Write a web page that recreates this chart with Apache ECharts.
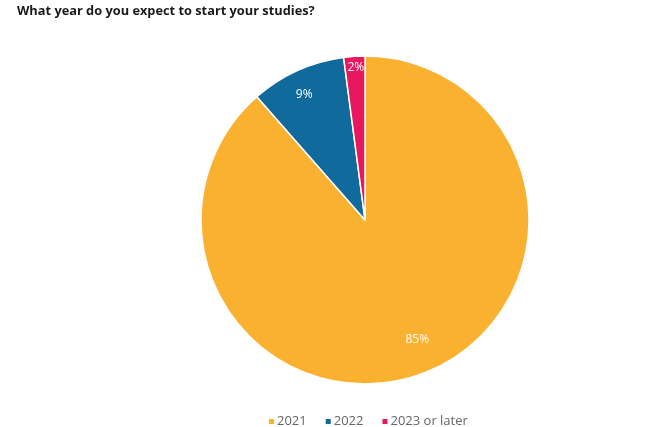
<!DOCTYPE html>
<html><head><meta charset="utf-8">
<script src="https://cdn.jsdelivr.net/npm/echarts@6/dist/echarts.min.js"></script>
<style>html,body{margin:0;padding:0;background:#fff}#c{width:665px;height:427px}</style>
</head><body><div id="c"></div>
<script>
const categories = ['2021', '2022', '2023 or later'];
const values = [85, 9, 2];
const colors = ['#FAB12F', '#106A9B', '#E8185E'];
// label nudges (styling only)
const labelNudge = [[3, -11], [-3, 2], [0, -13]];

const chart = echarts.init(document.getElementById('c'));
const data = categories.map((n, i) => ({ name: n, value: values[i], itemStyle: { color: colors[i] } }));
chart.setOption({
  animation: false,
  title: {
    text: 'What year do you expect to start your studies?',
    left: 12, top: 0,
    textStyle: { fontFamily: 'Open Sans', fontSize: 12.8, fontWeight: 'bold', color: '#1a1a1a' }
  },
  legend: {
    top: 410, left: 262,
    icon: 'rect', itemWidth: 7, itemHeight: 7, itemGap: 17,
    textStyle: { fontFamily: 'Open Sans', fontSize: 13, color: '#666', padding: [0, 0, 0, -3] },
    data: categories
  },
  series: [{
    type: 'pie',
    center: [365, 220], radius: 164,
    startAngle: 90, clockwise: true,
    label: { show: false }, labelLine: { show: false },
    itemStyle: { borderColor: '#fff', borderWidth: 1.5 },
    emphasis: { disabled: true },
    data: data
  }, {
    type: 'pie', silent: true,
    center: [365, 220], radius: [110, 164],
    startAngle: 90, clockwise: true,
    itemStyle: { color: 'rgba(0,0,0,0)' },
    label: {
      show: true, position: 'inside',
      formatter: '{c}%',
      fontFamily: 'Open Sans', fontSize: 12, color: '#fff'
    },
    labelLayout: function (p) {
      const n = labelNudge[p.dataIndex] || [0, 0];
      return { dx: n[0], dy: n[1] };
    },
    labelLine: { show: false },
    emphasis: { disabled: true },
    legendHoverLink: false,
    data: categories.map((n, i) => ({ name: n + ' ', value: values[i] }))
  }]
});
</script></body></html>
